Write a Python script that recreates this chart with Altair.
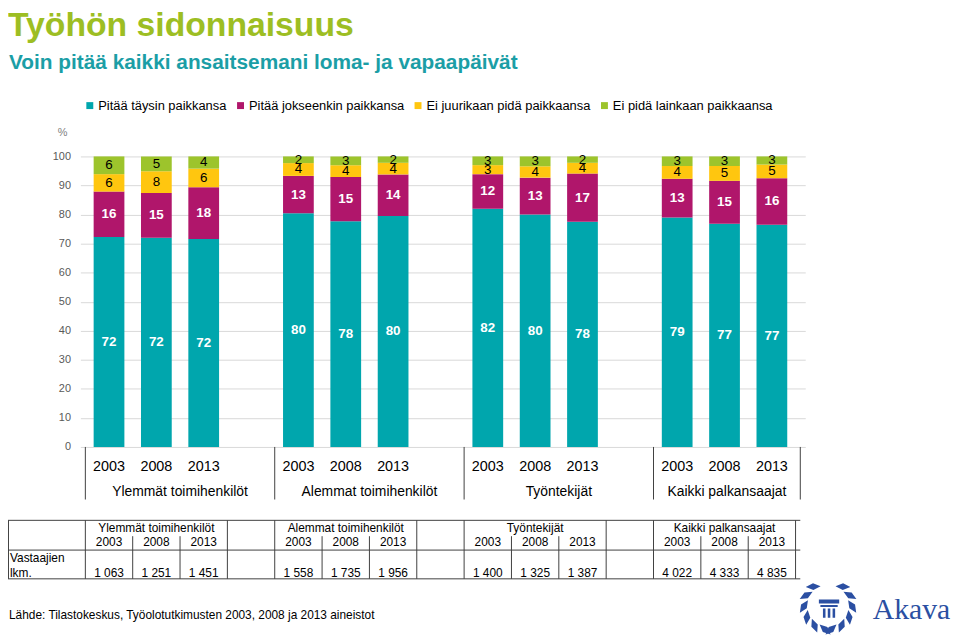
import math
import altair as alt
import pandas as pd

FONT = "Liberation Sans"

# ---------------- data ----------------
groups = ["Ylemmät toimihenkilöt", "Alemmat toimihenkilöt", "Työntekijät", "Kaikki palkansaajat"]
years = ["2003", "2008", "2013"]
series = ["Pitää täysin paikkansa", "Pitää jokseenkin paikkansa",
          "Ei juurikaan pidä paikkaansa", "Ei pidä lainkaan paikkaansa"]
colors = ["#00A6AD", "#B0166B", "#FFC60F", "#9DC42C"]

taysin = [72.3, 72.0, 71.6, 80.4, 77.7, 79.5, 82.0, 80.0, 77.5, 79.0, 76.8, 76.5]
jokseenkin = [15.6, 15.4, 17.8, 12.9, 15.2, 14.3, 11.9, 12.7, 16.6, 13.3, 14.8, 16.0]
juurikaan = [6.0, 7.5, 6.4, 4.4, 4.1, 4.0, 3.1, 3.9, 3.7, 4.4, 5.1, 4.7]
lainkaan = [6.1, 5.1, 4.2, 2.3, 3.0, 2.2, 3.0, 3.4, 2.2, 3.3, 3.3, 2.8]

respondents = [1063, 1251, 1451, 1558, 1735, 1956, 1400, 1325, 1387, 4022, 4333, 4835]

source_text = "Lähde: Tilastokeskus, Työolotutkimusten 2003, 2008 ja 2013 aineistot"

# ---------------- tables ----------------
all_vals = [taysin, jokseenkin, juurikaan, lainkaan]
rows = []
for si, s in enumerate(series):
    for j in range(12):
        rows.append({"slot": 4 * (j // 3) + j % 3, "series": s, "order": si, "value": all_vals[si][j]})
df = pd.DataFrame(rows)

slot_rows = []
for j in range(12):
    slot_rows.append({"slot": 4 * (j // 3) + j % 3, "year": years[j % 3],
                      "n": f"{respondents[j]:,}".replace(",", " ")})
df_slots = pd.DataFrame(slot_rows)

seps = [-0.5, 3.5, 7.5, 11.5, 14.6]
df_groups_axis = pd.DataFrame({"pos": [(seps[i] + seps[i + 1]) / 2 for i in range(4)], "name": groups})
df_groups_tab = pd.DataFrame({"pos": [4 * g + 1 for g in range(4)], "name": groups})
df_seps = pd.DataFrame({"pos": seps})

full_lines = pd.DataFrame({"pos": [-0.5, 2.5, 3.5, 6.5, 7.5, 10.5, 11.5, 14.5]})
part_lines = pd.DataFrame({"pos": [0.5, 1.5, 4.5, 5.5, 8.5, 9.5, 12.5, 13.5]})

W, H = 731, 293
LEFT = -73  # page x = 8
xs = alt.Scale(domain=[-0.5, 14.6], nice=False, zero=False)
ys = alt.Scale(domain=[0, 100], nice=False)
yaxis = alt.Axis(values=list(range(0, 101, 10)), grid=True, domain=False, ticks=False,
                 labelColor="#595959", labelFontSize=11, labelFont=FONT, labelPadding=10,
                 gridColor="#D9D9D9", title=None)

X = lambda f: alt.X(f, type="quantitative", scale=xs, axis=None)

bars = alt.Chart(df).mark_bar(size=31).encode(
    x=X("slot"),
    y=alt.Y("value:Q", stack="zero", scale=ys, axis=yaxis),
    color=alt.Color("series:N", scale=alt.Scale(domain=series, range=colors),
                    legend=alt.Legend(orient="none", legendX=3, legendY=-58, direction="horizontal",
                                      columns=4, title=None, symbolType="square", symbolSize=49,
                                      symbolStrokeWidth=0, labelFontSize=13, labelFont=FONT,
                                      labelColor="#000000", columnPadding=7, labelOffset=2,
                                      labelLimit=400)),
    order=alt.Order("order:Q"),
)

stacked = alt.Chart(df).transform_stack(
    stack="value", groupby=["slot"], as_=["y0", "y1"], sort=[alt.SortField("order", order="ascending")]
).transform_calculate(mid="(datum.y0 + datum.y1) / 2")

inner_lab = stacked.transform_filter("datum.order <= 1").mark_text(
    font=FONT, fontSize=13.5, fontWeight="bold", color="white"
).encode(x=X("slot"), y=alt.Y("mid:Q", scale=ys, axis=yaxis), text=alt.Text("value:Q", format=".0f"))

outer_lab = stacked.transform_filter("datum.order >= 2").mark_text(
    font=FONT, fontSize=13.5, color="black"
).encode(x=X("slot"), y=alt.Y("mid:Q", scale=ys, axis=yaxis), text=alt.Text("value:Q", format=".0f"))

# category axis (two levels)
year_lab = alt.Chart(df_slots).mark_text(font=FONT, fontSize=14.5, color="black").encode(
    x=X("slot"), y=alt.value(313), text="year:N")
group_lab = alt.Chart(df_groups_axis).mark_text(font=FONT, fontSize=14, color="black").encode(
    x=X("pos"), y=alt.value(338), text="name:N")
sep_rules = alt.Chart(df_seps).mark_rule(color="#404040", strokeWidth=1).encode(
    x=X("pos"), y=alt.value(H), y2=alt.value(346))

# text annotations
title_df = pd.DataFrame({"t": ["Työhön sidonnaisuus"]})
sub_df = pd.DataFrame({"t": ["Voin pitää kaikki ansaitsemani loma- ja vapaapäivät"]})
pct_df = pd.DataFrame({"t": ["%"]})
src_df = pd.DataFrame({"t": [source_text]})

title = alt.Chart(title_df).mark_text(font=FONT, fontSize=34, fontWeight="bold", color="#9DBE23",
                                      align="left", baseline="alphabetic").encode(
    x=alt.value(LEFT), y=alt.value(-121), text="t:N")
subtitle = alt.Chart(sub_df).mark_text(font=FONT, fontSize=21, fontWeight="bold", color="#1B9EA6",
                                       align="left", baseline="alphabetic").encode(
    x=alt.value(LEFT + 1), y=alt.value(-88), text="t:N")
pct = alt.Chart(pct_df).mark_text(font=FONT, fontSize=11, color="#7F7F7F", align="center").encode(
    x=alt.value(-18), y=alt.value(-24), text="t:N")
src = alt.Chart(src_df).mark_text(font=FONT, fontSize=12, color="black", align="left").encode(
    x=alt.value(LEFT + 1), y=alt.value(462), text="t:N")

# respondents table
TT, TM, TB = 367, 397, 426
hlines = alt.Chart(pd.DataFrame({"yy": [TT, TM, TB]})).mark_rule(color="#404040", strokeWidth=1).encode(
    x=alt.value(LEFT), x2=alt.value(726), y=alt.Y("yy:Q", scale=None))
vfull = alt.Chart(full_lines).mark_rule(color="#404040", strokeWidth=1).encode(
    x=X("pos"), y=alt.value(TT), y2=alt.value(TB))
vpart = alt.Chart(part_lines).mark_rule(color="#404040", strokeWidth=1).encode(
    x=X("pos"), y=alt.value(383), y2=alt.value(TB))
vleft = alt.Chart(pd.DataFrame({"a": [0]})).mark_rule(color="#404040", strokeWidth=1).encode(
    x=alt.value(LEFT + 0.5), y=alt.value(TT), y2=alt.value(TB))
tab_groups = alt.Chart(df_groups_tab).mark_text(font=FONT, fontSize=12, color="black").encode(
    x=X("pos"), y=alt.value(375), text="name:N")
tab_years = alt.Chart(df_slots).mark_text(font=FONT, fontSize=12, color="black").encode(
    x=X("slot"), y=alt.value(389), text="year:N")
tab_vals = alt.Chart(df_slots).mark_text(font=FONT, fontSize=12, color="black").encode(
    x=X("slot"), y=alt.value(420), text="n:N")
tab_lab1 = alt.Chart(pd.DataFrame({"t": ["Vastaajien"]})).mark_text(
    font=FONT, fontSize=12, color="black", align="left").encode(x=alt.value(LEFT + 2), y=alt.value(405), text="t:N")
tab_lab2 = alt.Chart(pd.DataFrame({"t": ["lkm."]})).mark_text(
    font=FONT, fontSize=12, color="black", align="left").encode(x=alt.value(LEFT + 2), y=alt.value(420), text="t:N")

# Akava logo (decorative)
leaf_parts = []
for side in (-1, 1):
    for k in range(6):
        a = math.radians(side * (38 + k * 27))
        r = 0.78
        cx, cy = r * math.sin(a), -r * math.cos(a)
        tx, ty = math.cos(a) * side, math.sin(a) * side
        tilt = math.radians(-35) * side
        dx = tx * math.cos(tilt) - ty * math.sin(tilt)
        dy = tx * math.sin(tilt) + ty * math.cos(tilt)
        nx, ny = -dy, dx
        L, Wd = 0.24, 0.11
        p = [(cx + dx * L, cy + dy * L), (cx + nx * Wd, cy + ny * Wd),
             (cx - dx * L, cy - dy * L), (cx - nx * Wd, cy - ny * Wd)]
        leaf_parts.append("M" + " L".join(f"{px:.3f},{py:.3f}" for px, py in p) + " Z")
wreath_path = " ".join(leaf_parts)
column_path = ("M-1,-1 L1,-1 L1,-0.6 L-1,-0.6 Z "
               "M-0.85,-0.45 L0.85,-0.45 L0.85,-0.25 L-0.85,-0.25 Z "
               "M-0.6,-0.1 L-0.35,-0.1 L-0.35,0.8 L-0.6,0.8 Z "
               "M-0.125,-0.1 L0.125,-0.1 L0.125,0.8 L-0.125,0.8 Z "
               "M0.35,-0.1 L0.6,-0.1 L0.6,0.8 L0.35,0.8 Z")
logo_df = pd.DataFrame({"a": [0]})
wreath = alt.Chart(logo_df).mark_point(shape=wreath_path, size=3900, filled=True, color="#2B4FA2",
                                       opacity=1, strokeWidth=0).encode(x=alt.value(754), y=alt.value(453))
column = alt.Chart(logo_df).mark_point(shape=column_path, size=420, filled=True, color="#2B4FA2",
                                       opacity=1, strokeWidth=0).encode(x=alt.value(755), y=alt.value(457))
akava = alt.Chart(pd.DataFrame({"t": ["Akava"]})).mark_text(
    font="Liberation Serif", fontSize=30, color="#2B4FA2", align="left", baseline="alphabetic").encode(
    x=alt.value(799), y=alt.value(467), text="t:N")

chart = alt.layer(
    bars, inner_lab, outer_lab, year_lab, group_lab, sep_rules,
    title, subtitle, pct, src,
    hlines, vfull, vpart, vleft, tab_groups, tab_years, tab_vals, tab_lab1, tab_lab2,
    wreath, column, akava,
).properties(
    width=W, height=H,
    autosize=alt.AutoSizeParams(type="none"),
    padding={"left": 73, "top": 147, "right": 148, "bottom": 191},
    background="white",
).configure_view(stroke=None)

chart.save("out.html", embed_options={"renderer": "svg", "actions": False})
